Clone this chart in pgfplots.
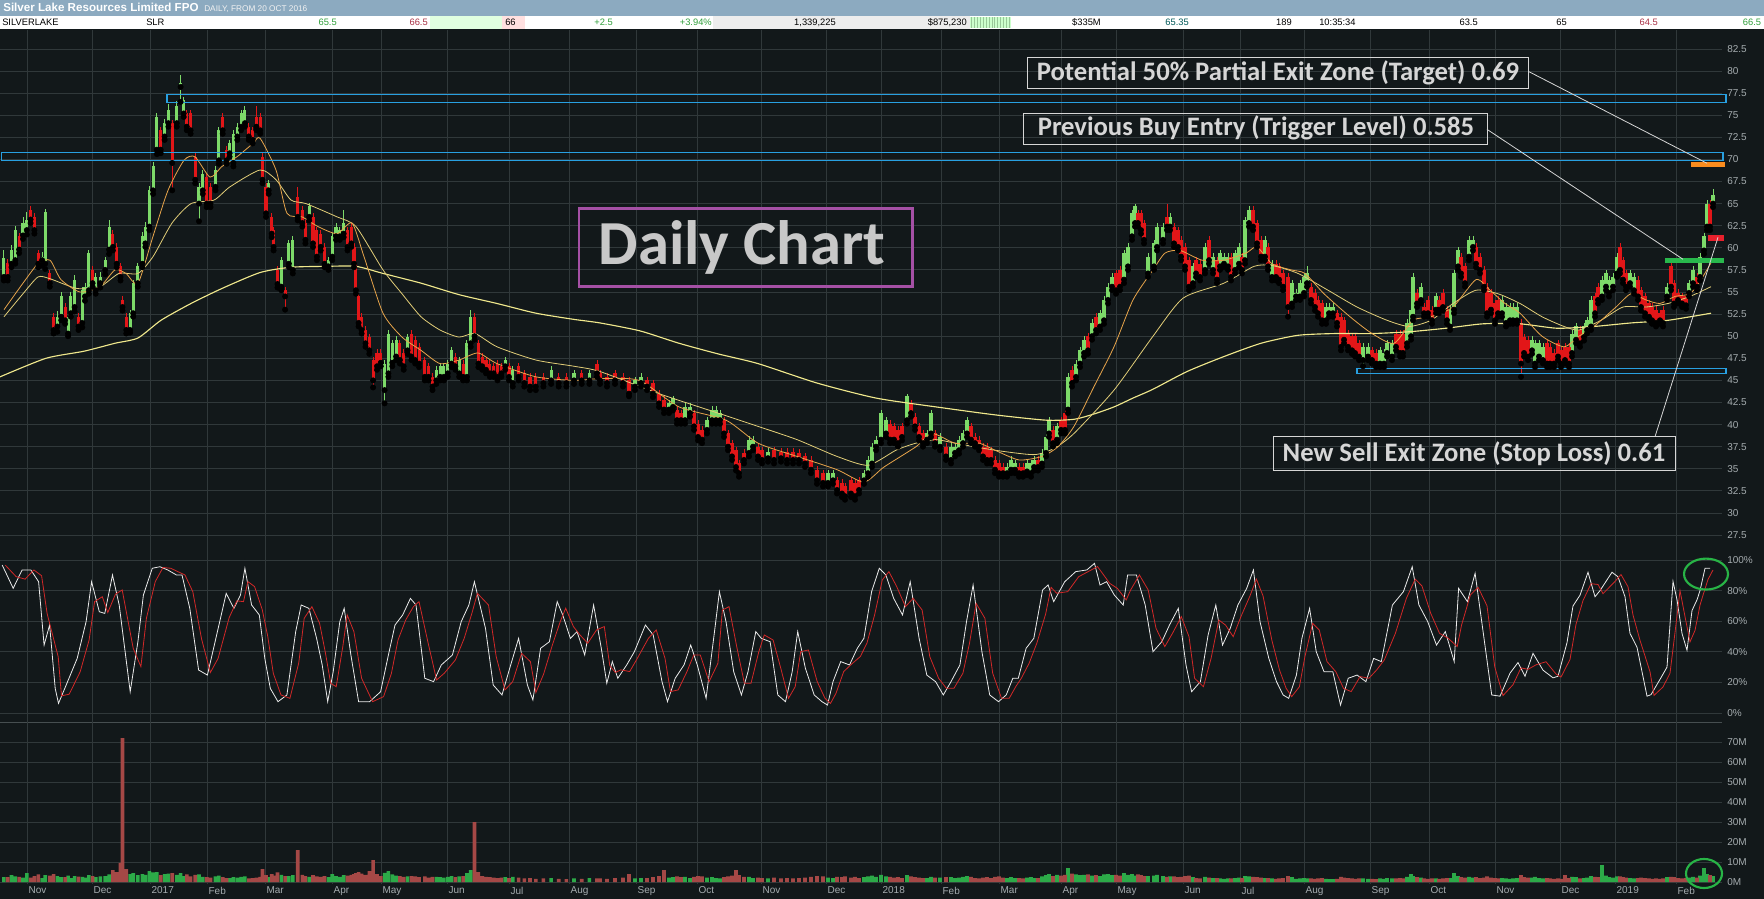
\documentclass[border=0pt]{standalone}
\usepackage{fontspec}
\setmainfont{Liberation Sans}
\newfontfamily\carlito{Carlito}
\usepackage{pgfplots}
\usepackage{pgfplotstable}
\pgfplotsset{compat=1.18}
\definecolor{bg}{RGB}{18,24,26}
\definecolor{gridc}{RGB}{48,56,58}
\definecolor{sepc}{RGB}{70,78,80}
\definecolor{lab}{RGB}{165,172,175}
\definecolor{upc}{RGB}{125,218,105}
\definecolor{dnc}{RGB}{226,22,24}
\definecolor{vup}{RGB}{44,170,72}
\definecolor{vdn}{RGB}{165,72,70}
\definecolor{mafast}{RGB}{232,165,75}
\definecolor{mamed}{RGB}{226,206,120}
\definecolor{maslow}{RGB}{240,232,140}
\definecolor{boxblue}{RGB}{40,160,225}
\definecolor{titlebar}{RGB}{140,170,192}
\definecolor{annot}{RGB}{214,214,214}
\definecolor{purp}{RGB}{165,80,165}
\definecolor{hlgreen}{RGB}{40,180,70}
\definecolor{tgtorange}{RGB}{250,140,30}
\definecolor{stopred}{RGB}{232,32,44}
\definecolor{buygreen}{RGB}{40,184,76}
\definecolor{stK}{RGB}{235,235,235}
\definecolor{stD}{RGB}{210,40,40}
\definecolor{infogreen}{RGB}{50,160,60}
\definecolor{infored}{RGB}{170,50,70}
\newcommand\tickfont{\fontsize{7.5}{9}\selectfont}
\newcommand\infofont{\fontsize{7}{8}\selectfont}

% candles: x, body low, body high, low, high, volume (M)
\pgfplotstableread{
x bl bh l h v
3.8 56.7 58.8 56.3 59.8 2.5
11.5 58.2 59.8 57.8 60.3 3.5
15.3 58.6 62.0 58.2 62.5 2.8
23.0 61.4 62.8 61.0 63.5 2.2
26.8 62.0 63.2 61.5 64.0 4.5
42.1 58.6 59.0 58.0 59.5 2.0
45.2 58.2 64.0 57.6 64.4 3.5
57.4 51.1 52.2 50.5 52.8 3.0
61.2 52.2 54.5 51.8 55.0 2.5
68.1 50.3 52.2 50.0 52.6 3.2
70.8 52.6 54.5 52.2 55.0 2.0
74.6 53.3 56.4 52.8 56.9 3.0
82.3 51.5 55.2 51.0 55.6 2.6
85.0 54.5 55.6 54.0 56.0 2.2
88.8 55.2 59.4 54.8 59.8 3.4
95.7 55.2 56.7 54.8 57.1 2.4
100.3 56.0 56.7 55.5 57.3 2.8
105.2 57.5 58.6 57.0 59.0 3.0
109.1 59.8 62.4 59.3 63.2 3.8
130.1 50.7 52.6 50.4 53.0 4.0
133.2 52.6 56.0 52.2 56.4 4.5
137.8 56.0 57.9 55.6 58.3 3.5
142.4 58.2 61.3 57.8 61.8 4.0
145.4 60.5 62.4 60.1 62.9 3.6
149.3 62.4 66.5 62.0 67.0 5.5
153.1 66.5 69.2 66.1 69.7 4.8
156.9 71.1 74.8 70.6 75.2 5.0
164.6 72.6 74.1 72.2 74.6 4.0
168.4 74.1 75.6 73.7 76.3 4.2
176.8 74.1 76.0 73.7 76.6 3.6
180.6 78.2 78.6 76.5 79.5 4.5
183.7 75.2 76.7 74.8 77.1 3.0
199.0 65.0 66.9 63.0 67.3 3.8
202.8 66.5 68.4 66.1 68.8 2.6
215.5 66.9 68.8 66.5 69.3 2.8
218.9 69.9 73.3 69.5 73.7 3.2
229.6 70.7 71.8 70.3 72.2 2.0
233.4 69.6 72.9 69.2 73.3 2.4
237.3 72.6 73.7 72.2 74.1 2.2
241.1 73.7 75.2 73.3 75.6 2.6
244.9 74.1 75.6 73.7 76.0 2.8
268.7 66.5 67.3 66.1 67.7 2.4
281.3 55.6 58.6 55.2 59.0 3.6
288.9 58.2 60.5 57.8 60.9 3.0
292.8 57.5 60.9 57.1 61.3 3.4
309.2 63.5 64.7 63.1 65.1 2.6
328.4 57.9 58.6 57.5 59.0 2.4
332.2 59.0 61.3 58.6 61.7 4.0
336.0 61.3 62.4 60.9 62.8 3.0
339.8 61.3 62.0 60.9 62.4 2.6
343.7 61.6 62.8 61.2 64.3 3.4
384.6 43.9 46.9 42.4 47.3 4.6
388.4 45.8 50.3 45.4 50.7 5.5
392.3 47.0 49.2 46.6 49.6 3.8
396.1 47.7 49.6 47.3 50.0 3.2
407.6 48.4 49.9 48.0 50.3 2.8
436.3 45.0 46.2 44.6 46.6 2.6
440.1 45.4 46.6 45.0 47.0 2.4
443.9 45.4 46.6 45.0 47.0 2.2
447.8 45.8 46.9 45.4 47.3 2.6
451.6 46.9 48.4 46.5 48.8 3.0
459.2 45.8 47.3 45.4 47.7 2.8
466.9 45.4 49.2 45.0 49.6 4.5
470.7 49.2 52.2 48.8 53.0 6.0
505.2 46.6 47.3 46.2 47.7 2.4
512.8 44.7 46.2 44.3 46.6 2.6
551.1 45.0 46.2 44.6 46.6 2.0
574.0 45.0 45.8 44.6 46.2 1.8
589.4 45.0 45.8 44.6 46.2 2.0
635 44.3 45.0 43.9 45.4 1.8
641 44.7 45.4 44.3 45.8 2.0
669 41.7 42.4 41.3 42.8 2.2
673 42.0 43.0 41.6 43.2 2.4
685 40.5 42.0 40.1 42.4 2.6
690 41.3 42.0 40.9 42.4 2.0
707 39.4 40.5 39.0 40.9 2.2
712 40.5 41.7 40.1 42.1 2.4
716 40.5 41.7 40.1 42.1 2.0
720 40.5 41.3 40.1 41.7 1.8
749 36.8 38.3 36.4 38.7 2.6
753 37.5 38.3 37.1 38.7 2.0
768 36.2 36.9 35.8 37.3 1.8
828 33.4 34.5 33.0 34.9 2.2
833 33.7 34.5 33.3 34.9 2.0
864 33.7 34.5 33.3 34.9 2.4
868 34.5 36.0 34.1 36.4 2.8
872 35.6 37.5 35.2 37.9 3.2
876 37.5 38.3 37.1 38.7 2.6
881 38.3 41.3 37.9 41.7 3.6
886 39.0 40.5 38.6 40.9 2.8
907 40.5 43.2 40.1 43.5 3.4
927 38.3 39.0 37.9 39.4 2.0
931 39.0 41.3 38.6 41.7 2.6
940 37.5 38.6 37.1 39.0 2.2
951 36.0 37.5 35.6 37.9 2.4
955 36.8 37.5 36.4 37.9 2.0
959 37.1 38.3 36.7 38.7 2.2
963 37.9 39.0 37.5 39.4 2.6
967 39.0 40.5 38.6 40.9 3.0
1007 34.5 35.2 34.1 35.6 2.0
1011 34.9 36.0 34.5 36.4 2.4
1015 34.9 35.6 34.5 36.0 2.0
1027 34.7 35.6 34.3 36.0 2.2
1031 34.5 35.6 34.1 36.0 2.4
1034 35.2 36.0 34.8 36.4 2.0
1042 35.6 36.8 35.2 37.2 2.8
1046 36.8 38.6 36.4 39.0 3.4
1049 39.0 40.5 38.6 40.9 4.0
1057 38.3 39.8 37.9 40.2 3.6
1068 41.7 45.4 41.3 45.8 7.0
1076 45.4 46.9 45.0 47.3 3.8
1080 46.9 48.4 46.5 48.8 3.4
1084 48.1 49.6 47.7 50.0 3.6
1092 50.0 51.5 49.6 51.9 3.2
1100 51.1 52.6 50.7 53.0 3.0
1104 51.8 54.1 51.4 54.5 3.8
1108 54.1 55.6 53.7 56.0 4.0
1112 55.6 56.7 55.2 57.1 3.4
1124 56.4 59.4 56.0 59.8 4.4
1128 57.9 60.1 57.5 60.5 3.6
1132 61.3 63.9 60.9 64.3 4.0
1135 62.8 64.7 62.4 65.0 3.2
1148 57.1 59.0 56.7 59.4 3.0
1154 57.9 60.5 57.5 60.9 3.2
1157 60.1 62.4 59.7 62.8 3.6
1163 60.9 62.4 60.5 62.8 3.0
1170 62.4 63.5 62.0 63.9 2.8
1193 56.0 57.9 55.6 58.3 2.4
1205 57.5 60.1 57.1 60.5 2.6
1213 57.5 59.0 57.1 59.4 2.0
1220 57.9 59.4 57.5 59.8 1.8
1224 58.2 59.0 57.8 59.4 1.6
1228 57.9 59.0 57.5 59.4 1.8
1235 57.5 59.4 57.1 59.8 2.0
1239 58.2 60.1 57.8 60.5 2.2
1245 58.6 63.1 58.2 63.5 3.0
1249 62.8 64.3 62.4 64.7 2.8
1265 59.0 60.9 58.6 61.3 2.0
1272 56.7 58.2 56.3 58.6 1.8
1292 53.7 56.0 53.3 56.4 2.4
1296 54.5 54.9 54.1 55.3 1.6
1300 54.5 56.0 54.1 56.4 1.8
1304 54.9 56.7 54.5 57.1 2.0
1307 56.0 57.1 55.6 57.9 1.8
1326 51.8 53.3 51.4 53.7 1.6
1329 52.6 53.3 52.2 53.7 1.4
1333 52.6 53.3 52.2 53.7 1.5
1363 47.3 48.8 46.6 49.2 1.8
1368 47.7 48.8 47.3 49.2 1.6
1380 46.9 48.4 46.5 48.8 1.8
1384 46.9 48.1 46.5 48.5 1.6
1387 48.1 49.2 47.7 49.6 2.0
1392 47.7 49.2 47.3 49.6 1.8
1407 49.2 51.5 48.8 51.9 2.6
1411 50.0 53.0 49.6 53.4 4.0
1413 52.2 56.7 51.8 57.1 3.0
1421 54.1 55.6 53.7 56.0 2.2
1436 53.0 54.5 52.6 54.9 1.8
1450 51.1 53.0 50.7 53.4 2.0
1454 53.0 57.1 52.6 57.5 4.5
1458 57.9 59.7 57.5 60.1 3.0
1469 59.0 60.9 58.6 61.3 2.6
1473 60.1 60.9 59.7 61.3 2.2
1502 52.6 54.1 52.2 54.5 2.0
1506 51.5 53.3 51.1 53.7 1.8
1510 51.8 53.3 51.4 53.7 1.6
1513 51.8 53.3 51.4 53.7 1.8
1517 51.8 53.3 51.4 53.7 2.0
1532 48.4 49.6 48.0 50.0 2.2
1535 46.9 49.2 46.5 49.6 2.6
1539 47.7 49.2 47.3 49.6 2.0
1543 47.3 48.8 46.9 49.2 1.8
1572 48.1 50.3 47.7 50.7 2.6
1576 49.6 51.1 49.2 51.5 2.4
1584 49.9 51.1 49.5 51.5 2.0
1587 50.7 51.8 50.3 52.2 2.2
1591 51.1 54.1 50.7 54.5 3.0
1602 54.5 56.4 54.1 56.8 8.5
1606 55.6 57.1 55.2 57.5 3.2
1609 54.9 56.4 54.5 56.8 2.4
1613 55.6 56.7 55.2 57.1 2.2
1617 57.1 59.0 56.7 59.4 2.8
1630 56.0 57.1 55.6 57.5 2.0
1634 55.2 56.7 54.8 57.1 1.8
1667 54.5 55.6 54.1 56.0 2.4
1689 54.9 56.0 54.5 56.4 2.2
1693 56.0 57.5 55.6 57.9 2.6
1700 56.7 59.0 56.3 59.4 3.2
1704 59.7 61.3 59.3 61.7 7.0
1707 62.4 65.0 62.0 65.4 4.0
1713 65.0 66.0 64.6 66.6 3.0
}\up

\pgfplotstableread{
x bl bh l h v
7.7 56.7 58.3 56.3 58.7 2.4
19.1 59.8 61.3 59.4 61.7 2.6
30.6 63.2 64.3 62.8 64.7 2.2
34.4 62.0 63.5 61.6 63.9 3.0
38.3 58.2 59.4 57.8 59.8 3.8
49.8 56.0 57.1 55.6 57.5 3.2
53.6 50.7 52.2 50.3 52.6 4.0
65.1 51.8 53.3 51.4 53.7 2.5
78.5 51.1 52.2 50.7 52.6 2.7
92.6 56.0 57.5 55.6 57.9 3.0
112.9 60.1 61.6 59.7 62.0 6.0
116.7 58.2 60.1 57.8 60.5 5.0
120.5 56.7 57.9 56.3 58.3 9.6
122.5 53.3 54.1 52.9 54.5 72
126.3 50.7 52.2 50.3 52.6 6.5
160.7 71.1 73.3 70.7 73.7 3.5
172.2 69.6 74.1 66.5 74.5 4.4
186.8 73.7 75.2 73.3 75.6 3.8
190.6 73.3 75.2 72.9 75.6 2.8
195.2 67.7 70.3 67.3 70.7 3.6
206.7 65.0 68.0 64.6 68.4 2.4
210.5 65.0 66.9 64.6 67.3 2.2
222.7 73.3 74.8 72.9 75.2 2.4
226.6 69.9 71.1 69.5 71.5 2.0
248.8 72.6 73.7 72.2 74.1 1.8
252.6 72.2 73.3 71.8 73.7 2.0
256.4 73.7 74.8 73.3 76.0 2.2
260.2 73.3 74.8 72.9 75.2 2.6
262.5 67.7 70.3 67.3 70.7 6.5
266.0 63.9 66.9 63.5 67.3 3.5
271.7 61.6 63.5 61.2 63.9 4.0
273.6 60.1 62.0 59.7 62.4 3.2
277.5 55.9 57.5 55.5 57.9 4.8
285.1 54.5 55.2 53.0 55.6 3.0
297.7 63.5 65.8 63.1 66.9 16
302.3 62.8 64.3 62.4 64.7 3.6
305.4 60.9 62.8 60.5 63.2 3.0
313.0 60.5 63.5 60.1 63.9 3.4
316.9 59.0 62.0 58.6 62.4 2.8
320.7 60.1 61.6 59.7 62.0 2.6
324.5 58.2 60.1 57.8 60.5 3.0
347.5 60.1 62.0 59.7 62.4 3.2
351.3 60.5 62.4 60.1 62.8 3.6
354.0 58.2 60.1 57.8 60.5 4.0
355.9 55.2 58.2 54.8 58.6 4.4
358.6 51.5 54.5 51.1 54.9 5.0
361.6 50.7 52.2 50.3 52.6 4.2
365.5 49.2 50.7 48.8 51.1 3.6
369.3 48.4 49.9 48.0 50.3 5.5
373.1 45.0 47.3 44.2 47.7 11
377.0 46.6 48.1 46.2 48.5 4.0
380.8 47.0 48.1 46.6 48.5 3.0
399.9 47.3 49.2 46.9 49.6 3.0
403.7 46.6 48.1 46.2 48.5 2.6
411.4 47.7 50.3 47.3 50.7 3.0
415.2 47.3 49.6 46.9 50.0 2.8
419.1 46.9 48.8 46.5 49.2 2.4
424.8 45.4 47.3 45.0 47.7 2.8
428.6 45.4 46.6 45.0 47.0 2.2
432.5 44.3 45.4 43.9 45.8 2.6
455.4 46.6 47.7 46.2 48.1 2.4
463.1 45.4 46.9 45.0 47.3 3.0
474.5 50.0 52.2 49.6 52.6 30
478.4 46.9 49.2 46.5 49.6 5.0
482.2 46.6 47.7 46.2 48.1 3.0
486.0 46.2 47.3 45.8 47.7 2.6
489.9 45.8 46.9 45.4 47.3 2.4
493.7 45.8 46.6 45.4 47.0 2.2
497.5 45.4 46.9 45.0 47.3 2.0
501.3 45.8 46.6 45.4 47.0 2.2
509.0 45.4 46.6 45.0 47.0 2.0
518.6 45.4 46.6 45.0 47.0 2.2
524.3 44.7 45.8 44.3 46.2 1.8
530.0 44.3 45.4 43.9 45.8 2.0
535.8 44.3 45.4 43.9 45.8 1.6
543.4 44.7 45.4 44.3 45.8 1.8
558.7 44.7 45.4 44.3 45.8 1.6
566.4 44.7 45.4 44.3 45.8 1.4
581.7 45.0 45.8 44.6 46.2 1.6
597.0 45.8 46.9 45.4 47.3 1.8
600 45.0 45.8 44.6 46.2 1.8
607 44.7 45.4 44.3 45.8 1.6
615 45.0 45.8 44.6 46.2 2.0
623 44.7 45.4 44.3 45.8 2.2
629 43.5 45.0 43.2 45.4 4.0
647 44.3 45.0 43.9 45.4 2.0
653 43.5 44.7 43.1 45.1 2.4
659 42.4 43.5 42.0 43.9 3.0
664 41.7 42.8 41.3 43.2 6.0
677 40.5 41.7 40.1 42.1 2.8
681 40.5 41.3 40.1 41.7 2.4
694 39.8 41.3 39.4 41.7 2.6
698 38.6 40.1 38.2 40.5 3.0
702 38.3 39.4 37.9 39.8 2.8
724 39.0 40.5 38.6 40.9 2.4
728 37.5 39.0 37.1 39.4 2.8
732 36.4 37.9 36.0 38.3 3.2
736 35.2 37.1 34.8 37.5 6.0
739 34.5 35.6 34.1 36.0 3.4
744 36.0 36.8 35.6 37.2 2.6
758 36.4 37.5 36.0 37.9 2.2
762 36.0 37.1 35.6 37.5 2.0
774 36.0 37.1 35.6 37.5 2.2
781 36.2 36.9 35.8 37.3 1.8
787 36.0 36.9 35.6 37.3 2.0
793 36.0 36.9 35.6 37.3 1.8
799 36.0 36.8 35.6 37.2 2.0
805 35.6 36.4 35.2 36.8 2.2
811 34.9 36.0 34.5 36.4 2.6
817 33.7 34.9 33.3 35.3 3.0
823 33.4 34.5 33.0 34.9 2.8
837 32.6 33.7 32.2 34.1 2.6
842 32.2 33.4 31.8 33.8 2.4
845 31.9 33.0 31.5 33.4 2.8
851 32.2 33.7 31.8 34.1 2.2
855 31.9 33.4 31.5 33.8 2.6
859 32.6 33.7 32.2 34.1 2.0
890 38.3 40.1 37.9 40.5 2.6
894 38.3 39.8 37.9 40.2 2.2
898 37.9 39.4 37.5 39.8 2.4
902 38.6 39.8 38.2 40.2 2.0
911 41.3 42.4 40.9 42.8 2.8
915 39.8 40.9 39.4 41.3 2.4
919 38.6 39.8 38.2 40.2 2.2
923 37.9 39.0 37.5 39.4 2.0
935 37.9 39.0 37.5 39.4 2.2
946 36.4 37.5 36.0 37.9 2.4
971 38.3 39.8 37.9 40.2 2.6
975 37.9 38.6 37.5 39.0 2.0
979 37.5 38.3 37.1 38.7 1.8
983 36.4 37.5 36.0 37.9 2.2
987 36.0 37.5 35.6 37.9 2.4
991 36.0 37.1 35.6 37.5 2.0
995 34.9 36.0 34.5 36.4 2.6
999 34.5 35.6 34.1 36.0 2.8
1003 34.5 35.2 34.1 35.6 2.2
1019 34.5 35.2 34.1 35.6 2.0
1023 34.5 35.2 34.1 35.6 1.8
1038 35.2 36.0 34.8 36.4 2.0
1053 37.9 39.4 37.5 39.8 3.0
1061 39.4 40.5 39.0 40.9 3.2
1065 39.4 41.3 39.0 41.7 3.6
1072 44.7 46.2 44.3 46.6 4.2
1088 48.4 50.0 48.0 50.4 3.8
1096 50.7 52.2 50.3 52.6 3.4
1116 55.2 57.1 54.8 57.5 3.6
1120 55.6 57.5 55.2 57.9 3.2
1138 62.8 63.9 62.4 64.3 3.8
1141 62.0 63.9 61.6 64.3 3.4
1144 60.9 62.8 60.5 63.2 3.0
1167 62.4 63.5 62.0 65.0 2.6
1174 60.5 62.4 60.1 62.8 2.8
1178 60.1 62.0 59.7 62.4 2.4
1181 59.0 60.9 58.6 61.3 2.6
1185 57.9 60.1 57.5 60.5 3.0
1189 55.6 58.6 55.2 59.0 3.2
1196 57.1 58.6 56.7 59.0 2.0
1200 56.7 58.2 56.3 58.6 1.8
1209 58.6 60.9 58.2 61.3 2.2
1217 56.4 58.6 56.0 59.0 2.0
1231 56.7 59.0 56.3 59.4 1.8
1242 57.5 59.0 57.1 59.4 2.0
1253 62.4 64.3 62.0 64.7 2.6
1257 60.5 62.8 60.1 63.2 2.4
1261 59.0 60.9 58.6 61.3 2.2
1268 57.9 60.1 57.5 60.5 2.0
1276 56.7 58.2 56.3 58.6 1.6
1279 56.4 57.9 56.0 58.3 1.8
1283 55.6 57.1 55.2 57.5 2.0
1288 53.3 56.7 52.2 57.1 3.0
1311 54.1 55.6 53.7 56.0 1.8
1315 53.3 54.9 52.9 55.3 1.6
1318 52.6 54.1 52.2 54.5 1.8
1322 51.8 53.7 51.4 54.1 2.0
1337 51.5 52.6 51.1 53.0 1.6
1341 48.8 52.2 48.4 52.6 2.6
1344 49.6 51.8 49.2 52.2 2.2
1348 48.8 50.3 48.4 50.7 2.0
1352 48.4 50.0 48.0 50.4 1.8
1355 48.1 50.0 47.7 50.4 1.6
1359 47.7 49.2 47.3 49.6 1.8
1372 47.3 48.4 46.9 48.8 1.6
1376 46.9 48.1 46.5 48.5 1.4
1396 48.8 50.3 48.4 50.7 1.8
1400 48.1 50.3 47.7 50.7 2.0
1403 48.1 50.3 47.7 50.7 1.8
1417 53.7 54.9 53.3 55.3 2.4
1424 52.6 53.3 52.2 53.7 1.8
1428 52.6 54.1 52.2 54.5 1.6
1432 51.8 53.0 51.4 53.4 1.8
1439 53.0 54.1 52.6 54.5 1.6
1443 53.3 54.9 52.9 55.3 1.8
1447 51.8 53.0 51.4 53.4 2.0
1461 57.1 59.0 56.7 59.4 2.4
1465 56.0 57.9 55.6 58.3 2.2
1476 58.2 60.1 57.8 60.5 2.4
1480 57.5 59.0 57.1 59.4 2.0
1484 55.6 57.5 55.2 57.9 2.2
1487 52.6 55.6 52.2 56.0 2.8
1491 53.0 54.9 52.6 55.3 2.2
1495 51.8 53.7 51.4 54.1 2.0
1498 52.6 54.1 52.2 54.5 1.8
1521 46.9 51.5 45.4 51.9 3.5
1524 48.1 49.9 47.7 50.3 2.4
1528 47.7 49.6 47.3 50.0 2.2
1547 46.9 49.2 46.5 49.6 2.0
1550 46.9 48.8 46.5 49.2 1.8
1554 46.9 48.1 46.5 48.5 1.6
1558 47.7 49.2 47.3 49.6 1.8
1561 46.9 48.4 46.5 48.8 1.6
1565 47.3 48.8 46.9 49.2 3.5
1569 46.9 48.8 46.5 49.2 2.0
1580 49.2 50.7 48.8 51.1 1.8
1595 52.6 54.5 52.2 54.9 2.6
1598 54.1 55.6 53.7 56.0 2.4
1620 57.5 60.1 57.1 60.5 2.8
1623 56.4 58.6 56.0 59.0 2.4
1626 55.6 57.1 55.2 57.5 2.2
1638 54.5 56.4 54.1 56.8 2.0
1641 53.3 55.2 52.9 55.6 2.2
1645 52.6 54.5 52.2 54.9 2.0
1649 52.2 53.7 51.8 54.1 1.8
1652 51.8 53.3 51.4 53.7 1.6
1656 51.5 53.0 51.1 53.4 1.8
1660 51.8 52.6 51.4 53.0 1.6
1663 51.5 53.0 51.1 53.4 1.8
1671 55.6 57.9 55.2 58.3 2.6
1674 53.7 56.0 53.3 56.4 2.4
1678 54.1 54.9 53.7 55.3 2.0
1682 53.7 54.5 53.3 54.9 1.8
1686 53.5 54.5 53.1 54.9 2.0
1697 55.6 56.7 55.2 57.1 2.2
1710 62.4 65.0 62.0 65.4 3.4
}\dn

\pgfplotsset{
  panel/.style={
    scale only axis, width=1291.5pt, xmin=0, xmax=1722,
    axis line style={draw=none}, major tick length=0pt,
    grid=major, major grid style={draw=gridc, line width=0.6pt},
    xtick={27,92,150,207,265,332,381,447,509,569,636,697,761,826,881,941,999,1061,1116,1183,1240,1304,1370,1429,1495,1560,1615,1676},
    xticklabels={},
    yticklabel pos=right,
    yticklabel style={anchor=west, font=\tickfont, text=lab, inner sep=0pt, xshift=3.75pt},
    clip=false,
  },
  candleup/.style={only marks, mark=none, forget plot, error bars/.cd, y dir=plus, y explicit, error mark=none},
}

\begin{document}
\begin{tikzpicture}
\path[use as bounding box] (0,0) rectangle (1323pt,-674.25pt);
% header
\fill[titlebar] (0,0) rectangle (1323pt,-12pt);
\fill[white] (0,-12pt) rectangle (1323pt,-21.75pt);
\fill[green!12] (322.5pt,-12pt) rectangle (376.5pt,-21.75pt);
\fill[red!12] (376.5pt,-12pt) rectangle (393.75pt,-21.75pt);
\fill[black!7] (534.75pt,-12pt) rectangle (727.5pt,-21.75pt);
\fill[green!20] (727.5pt,-12.8pt) rectangle (758.25pt,-21pt);
\foreach \i in {0,...,13} {\draw[green!45!black!40, line width=0.5pt] (728.5pt+\i*2.2pt,-12.8pt) -- (728.5pt+\i*2.2pt,-21pt);}
\draw[black!25, line width=0.5pt] (0,-21.75pt) -- (1323pt,-21.75pt);
\node[anchor=base west, inner sep=0pt, text=white] at (2.25pt,-9pt) {\fontsize{8.7}{10}\selectfont\bfseries Silver Lake Resources Limited FPO};
\node[anchor=base west, inner sep=0pt, text=black!5] at (153pt,-9pt) {\fontsize{6.2}{7}\selectfont DAILY, FROM 20 OCT 2016};
\begin{scope}[every node/.style={inner sep=0pt, font=\infofont}]
\node[anchor=base west] at (1.5pt,-19.5pt) {SILVERLAKE};
\node[anchor=base west] at (109.5pt,-19.5pt) {SLR};
\node[anchor=base east, text=infogreen] at (252.75pt,-19.5pt) {65.5};
\node[anchor=base east, text=infored] at (321pt,-19.5pt) {66.5};
\node[anchor=base west] at (378.75pt,-19.5pt) {66};
\node[anchor=base east, text=infogreen] at (459.75pt,-19.5pt) {+2.5};
\node[anchor=base east, text=infogreen] at (534pt,-19.5pt) {+3.94\%};
\node[anchor=base east] at (627pt,-19.5pt) {1,339,225};
\node[anchor=base east] at (725.25pt,-19.5pt) {\$875,230};
\node[anchor=base east] at (825.75pt,-19.5pt) {\$335M};
\node[anchor=base east, text=teal!70!black] at (891.75pt,-19.5pt) {65.35};
\node[anchor=base east] at (969pt,-19.5pt) {189};
\node[anchor=base west] at (989.25pt,-19.5pt) {10:35:34};
\node[anchor=base east] at (1108.5pt,-19.5pt) {63.5};
\node[anchor=base east] at (1175.25pt,-19.5pt) {65};
\node[anchor=base east, text=infored] at (1243.5pt,-19.5pt) {64.5};
\node[anchor=base east, text=infogreen] at (1321pt,-19.5pt) {66.5};
\end{scope}
% chart background
\fill[bg] (0,-21.75pt) rectangle (1323pt,-674.25pt);

% ===== price panel =====
\begin{axis}[panel, at={(0pt,-420pt)}, anchor=south west, height=397.5pt,
  ymin=24.68, ymax=84.64,
  ytick={27.5,30,32.5,35,37.5,40,42.5,45,47.5,50,52.5,55,57.5,60,62.5,65,67.5,70,72.5,75,77.5,80,82.5},
  yticklabels={27.5,30,32.5,35,37.5,40,42.5,45,47.5,50,52.5,55,57.5,60,62.5,65,67.5,70,72.5,75,77.5,80,82.5}]
% wicks
\addplot[candleup, error bar style={draw=upc, line width=0.75pt}] table[x=x, y=l, y error expr=\thisrow{h}-\thisrow{l}] {\up};
\addplot[candleup, error bar style={draw=dnc, line width=0.75pt}] table[x=x, y=l, y error expr=\thisrow{h}-\thisrow{l}] {\dn};
% bodies
\addplot[candleup, error bar style={draw=upc, line width=2.3pt}] table[x=x, y=bl, y error expr=\thisrow{bh}-\thisrow{bl}] {\up};
\addplot[candleup, error bar style={draw=dnc, line width=2.3pt}] table[x=x, y=bl, y error expr=\thisrow{bh}-\thisrow{bl}] {\dn};
% moving averages
\addplot[maslow, line width=0.85pt, smooth, tension=0.4] coordinates {(0,45.4)(46,47.5)(84,48.3)(115,49.2)(138,49.8)(161,51.8)(191,53.7)(222,55.4)(260,57.2)(291,57.8)(325,57.9)(356,57.9)(383,57.1)(421,56.0)(459,54.7)(497,53.7)(536,52.6)(574,51.9)(600,51.5)(640,50.6)(679,49.2)(718,48.0)(758,46.9)(817,44.7)(876,43.0)(936,42.0)(995,41.1)(1046,40.5)(1074,40.6)(1094,41.2)(1114,42.0)(1133,43.0)(1153,44.0)(1187,46.0)(1224,47.7)(1261,49.2)(1298,50.1)(1335,50.3)(1372,50.3)(1409,50.5)(1446,50.9)(1483,51.4)(1520,51.4)(1557,50.9)(1594,51.1)(1631,51.5)(1668,51.8)(1711,52.6)};
\addplot[mamed, line width=0.6pt, smooth, tension=0.4] coordinates {(4,52.2)(23,54.8)(38,56.7)(50,56.5)(77,55.4)(100,55.6)(119,57.1)(138,57.1)(153,59.0)(172,62.8)(191,65.0)(214,65.4)(230,66.9)(260,68.8)(276,67.7)(291,65.4)(306,65.0)(337,63.5)(356,62.4)(383,57.5)(402,54.8)(421,52.2)(440,50.7)(459,49.9)(475,50.3)(497,48.8)(536,47.3)(574,46.6)(600,46.0)(659,43.5)(718,41.3)(758,39.8)(797,38.3)(837,36.4)(868,35.4)(896,37.1)(916,37.9)(936,38.3)(955,37.9)(995,37.1)(1034,36.6)(1054,37.3)(1074,39.0)(1114,43.9)(1153,50.0)(1183,54.3)(1224,56.0)(1254,57.9)(1272,58.0)(1298,57.1)(1328,55.2)(1357,53.3)(1387,51.8)(1409,51.1)(1431,51.8)(1453,53.7)(1476,55.2)(1498,54.8)(1520,53.7)(1542,52.2)(1564,51.1)(1579,50.7)(1601,51.8)(1623,53.3)(1646,53.3)(1668,53.7)(1690,54.5)(1711,55.6)};
\addplot[mafast, line width=0.6pt, smooth, tension=0.4] coordinates {(4,53.0)(23,56.0)(38,58.2)(50,58.6)(61,56.4)(80,55.0)(100,55.6)(115,57.5)(126,57.1)(138,56.0)(153,61.3)(168,66.5)(184,69.9)(195,70.3)(210,68.0)(222,69.2)(237,70.3)(253,71.8)(260,72.4)(276,68.8)(287,63.9)(302,63.5)(318,62.4)(337,61.6)(352,62.8)(364,59.0)(383,52.6)(402,49.9)(421,48.4)(440,46.9)(459,47.3)(478,48.1)(497,46.9)(536,45.4)(574,45.0)(600,45.2)(639,45.0)(679,42.0)(726,40.5)(758,37.9)(797,36.4)(837,34.9)(864,33.5)(884,35.2)(916,37.5)(932,39.0)(955,37.9)(979,37.9)(995,37.1)(1019,36.0)(1042,36.4)(1058,37.5)(1074,39.8)(1094,44.3)(1114,48.8)(1133,54.1)(1153,57.5)(1165,59.4)(1180,59.7)(1202,58.6)(1224,58.6)(1246,59.4)(1257,60.1)(1272,58.2)(1291,57.5)(1305,57.1)(1324,54.8)(1350,52.2)(1372,50.3)(1394,49.2)(1413,51.8)(1431,52.2)(1453,53.3)(1476,56.4)(1490,55.2)(1505,53.7)(1520,52.6)(1542,50.0)(1564,48.8)(1579,50.0)(1594,51.1)(1616,53.3)(1631,54.8)(1646,54.1)(1660,53.7)(1675,54.5)(1690,54.8)(1701,56.4)(1711,58.3)};
% zones
\draw[boxblue, line width=0.8pt] (axis cs:167,76.4) rectangle (axis cs:1726,77.3);
\draw[boxblue, line width=0.8pt] (axis cs:1.5,69.9) rectangle (axis cs:1723,70.8);
\draw[boxblue, line width=0.8pt] (axis cs:1357,45.8) rectangle (axis cs:1726,46.3);
\fill[tgtorange] (axis cs:1691,69.1) rectangle (axis cs:1725,69.7);
\fill[stopred] (axis cs:1708,60.8) rectangle (axis cs:1724,61.4);
\fill[buygreen] (axis cs:1665,58.3) rectangle (axis cs:1724,58.8);
% connectors
\draw[annot, line width=0.6pt] (axis cs:1529,79.92) -- (axis cs:1707,69.56);
\draw[annot, line width=0.6pt] (axis cs:1487,73.4) -- (axis cs:1683,58.7);
\draw[annot, line width=0.6pt] (axis cs:1655,38.63) -- (axis cs:1718,61.19);
% annotation boxes
\draw[annot, line width=0.75pt] (axis cs:1027,81.55) rectangle (axis cs:1528,78.04);
\node[anchor=base, inner sep=0pt, text=annot] at (axis cs:1278,78.9) {\carlito\bfseries\fontsize{20}{22}\selectfont Potential 50\% Partial Exit Zone (Target) 0.69};
\draw[annot, line width=0.75pt] (axis cs:1023,75.21) rectangle (axis cs:1487,71.63);
\node[anchor=base, inner sep=0pt, text=annot] at (axis cs:1256,72.65) {\carlito\bfseries\fontsize{20}{22}\selectfont Previous Buy Entry (Trigger Level) 0.585};
\draw[annot, line width=0.75pt] (axis cs:1273,38.6) rectangle (axis cs:1675,34.75);
\node[anchor=base, inner sep=0pt, text=annot] at (axis cs:1474,35.8) {\carlito\bfseries\fontsize{20}{22}\selectfont New Sell Exit Zone (Stop Loss) 0.61};
\draw[purp, line width=2.2pt] (axis cs:579,64.42) rectangle (axis cs:912.3,55.59);
\node[anchor=center, inner sep=0pt, text={rgb,255:red,200;green,200;blue,200}] at (axis cs:742,60.0) {\carlito\bfseries\fontsize{47}{50}\selectfont Daily Chart};
\end{axis}
\draw[sepc, line width=0.6pt] (0,-420pt) -- (1291.5pt,-420pt);

% ===== stochastic panel =====
\begin{axis}[panel, at={(0pt,-541.5pt)}, anchor=south west, height=121.5pt,
  ymin=-5.88, ymax=100,
  ytick={0,20,40,60,80,100}, yticklabels={0\%,20\%,40\%,60\%,80\%,100\%}]
\addplot[stK, line width=0.6pt] coordinates {(2.2,96.7)(13.2,81.5)(22.1,93.5)(30.9,93.5)(38.6,85.8)(44.1,44.4)(49.6,57.5)(55.2,16.1)(58.5,6.3)(66.2,18.3)(77.2,35.7)(86.1,59.7)(91.6,85.8)(99.3,66.2)(104.8,65.1)(112.5,90.2)(119.2,70.6)(130.2,13.9)(137.9,46.6)(143.4,77.1)(152.3,94.6)(160.0,95.6)(167.7,93.5)(176.5,90.2)(182.0,90.2)(189.8,68.4)(198.6,28.1)(207.4,24.8)(215.1,46.6)(226.2,78.2)(233.9,68.4)(240.5,77.1)(244.9,94.6)(251.6,70.6)(259.3,64.1)(264.8,35.7)(270.3,16.1)(278.0,7.4)(286.9,11.8)(295.7,53.2)(301.2,70.6)(308.9,68.4)(316.6,48.8)(322.2,31.4)(327.7,7.4)(333.2,27.0)(339.8,59.7)(344.2,68.4)(350.9,37.9)(358.6,7.4)(369.6,7.4)(380.6,13.9)(388.4,37.9)(395.0,57.5)(402.7,64.1)(410.4,74.9)(416.0,70.6)(424.8,22.7)(433.6,20.5)(441.3,31.4)(452.4,37.9)(461.2,59.7)(468.9,70.6)(474.4,85.8)(485.5,55.3)(493.2,18.3)(502.0,11.8)(509.7,29.2)(518.6,48.8)(527.4,18.3)(532.9,8.5)(540.6,42.3)(549.4,46.6)(557.2,72.8)(562.7,64.1)(570.4,48.8)(577.0,53.2)(584.7,37.9)(593.6,70.6)(601.3,42.3)(606.8,19.4)(612.3,33.6)(617.8,22.7)(626.7,31.4)(634.4,40.1)(645.4,57.5)(653.2,51.0)(662.0,20.5)(667.5,7.4)(675.2,22.7)(684.0,31.4)(690.7,44.4)(697.3,31.4)(706.1,9.6)(714.9,55.3)(719.4,79.3)(726.0,59.7)(733.7,27.0)(741.4,11.8)(748.0,27.0)(755.8,53.2)(761.3,48.8)(770.1,46.6)(777.8,11.8)(785.5,7.4)(792.2,27.0)(797.7,53.2)(805.4,29.2)(814.2,11.8)(822.0,7.4)(827.5,5.2)(833.0,20.5)(840.7,33.6)(849.5,31.4)(857.3,42.3)(863.9,48.8)(871.6,79.3)(879.3,94.6)(885.9,90.2)(893.7,74.9)(902.5,64.1)(910.2,85.8)(919.1,48.8)(926.8,24.8)(935.6,20.5)(943.3,11.8)(951.0,20.5)(959.9,31.4)(966.5,59.7)(973.1,83.7)(981.9,40.1)(989.7,11.8)(998.5,7.4)(1006.2,11.8)(1012.8,22.7)(1018.3,22.7)(1026.1,42.3)(1033.8,48.8)(1042.6,80.4)(1048.1,83.7)(1053.7,72.8)(1064.7,85.8)(1075.7,92.4)(1086.8,93.5)(1094.5,97.8)(1100.0,83.7)(1106.6,85.8)(1114.3,77.1)(1123.2,70.6)(1127.6,90.2)(1136.4,90.2)(1145.2,70.6)(1153.0,40.1)(1161.8,46.6)(1169.5,57.5)(1178.3,68.4)(1186.0,31.4)(1191.6,13.9)(1200.4,20.5)(1208.1,51.0)(1215.8,70.6)(1222.5,44.4)(1230.2,55.3)(1237.9,70.6)(1246.7,81.5)(1253.4,93.5)(1260.0,59.7)(1268.8,35.7)(1276.5,20.5)(1283.1,11.8)(1288.7,9.6)(1296.4,24.8)(1301.9,48.8)(1309.6,68.4)(1316.2,40.1)(1324.0,27.0)(1332.8,27.0)(1340.5,5.2)(1348.2,22.7)(1357.1,24.8)(1365.9,20.5)(1373.6,35.7)(1381.3,33.6)(1392.4,70.6)(1403.4,79.3)(1412.2,95.6)(1418.9,70.6)(1427.7,59.7)(1436.5,44.4)(1445.3,53.2)(1454.2,33.6)(1458.6,81.5)(1467.4,72.8)(1475.1,91.3)(1484.0,48.8)(1491.7,11.8)(1500,11)(1510,26)(1518,33)(1525,24)(1533,39)(1543,28)(1553,23)(1558,24)(1567,46)(1573,70)(1580,77)(1588,92)(1595,76)(1600,80)(1612,92)(1618,89)(1625,76)(1630,52)(1637,43)(1647,11)(1651,12)(1660,22)(1667,30)(1673,86)(1677,74)(1682,52)(1687,41)(1692,67)(1697,74)(1700,80)(1705,94.6)(1710,94.6)};
\addplot[stD, line width=0.6pt] coordinates {(5.2,96.7)(16.2,89.1)(25.1,87.5)(33.9,93.5)(41.6,89.7)(47.1,65.1)(52.6,51.0)(58.2,36.8)(61.5,11.2)(69.2,12.3)(80.2,27.0)(89.1,47.7)(94.6,72.8)(102.3,76.0)(107.8,65.7)(115.5,77.7)(122.2,80.4)(133.2,42.3)(140.9,30.3)(146.4,61.9)(155.3,85.9)(163.0,95.1)(170.7,94.6)(179.5,91.9)(185.0,90.2)(192.8,79.3)(201.6,48.3)(210.4,26.5)(218.1,35.7)(229.2,62.4)(236.9,73.3)(243.5,72.8)(247.9,85.9)(254.6,82.6)(262.3,67.4)(267.8,49.9)(273.3,25.9)(281.0,11.8)(289.9,9.6)(298.7,32.5)(304.2,61.9)(311.9,69.5)(319.6,58.6)(325.2,40.1)(330.7,19.4)(336.2,17.2)(342.8,43.4)(347.2,64.1)(353.9,53.2)(361.6,22.7)(372.6,7.4)(383.6,10.7)(391.4,25.9)(398.0,47.7)(405.7,60.8)(413.4,69.5)(419.0,72.8)(427.8,46.7)(436.6,21.6)(444.3,26.0)(455.4,34.7)(464.2,48.8)(471.9,65.2)(477.4,78.2)(488.5,70.6)(496.2,36.8)(505.0,15.1)(512.7,20.5)(521.6,39.0)(530.4,33.6)(535.9,13.4)(543.6,25.4)(552.4,44.5)(560.2,59.7)(565.7,68.5)(573.4,56.5)(580.0,51.0)(587.7,45.6)(596.6,54.3)(604.3,56.5)(609.8,30.9)(615.3,26.5)(620.8,28.2)(629.7,27.1)(637.4,35.8)(648.4,48.8)(656.2,54.3)(665.0,35.8)(670.5,14.0)(678.2,15.1)(687.0,27.1)(693.7,37.9)(700.3,37.9)(709.1,20.5)(717.9,32.5)(722.4,67.3)(729.0,69.5)(736.7,43.4)(744.4,19.4)(751.0,19.4)(758.8,40.1)(764.3,51.0)(773.1,47.7)(780.8,29.2)(788.5,9.6)(795.2,17.2)(800.7,40.1)(808.4,41.2)(817.2,20.5)(825.0,9.6)(830.5,6.3)(836.0,12.9)(843.7,27.1)(852.5,32.5)(860.3,36.9)(866.9,45.6)(874.6,64.1)(882.3,87.0)(888.9,92.4)(896.7,82.6)(905.5,69.5)(913.2,75.0)(922.1,67.3)(929.8,36.8)(938.6,22.7)(946.3,16.2)(954.0,16.2)(962.9,26.0)(969.5,45.6)(976.1,71.7)(984.9,61.9)(992.7,26.0)(1001.5,9.6)(1009.2,9.6)(1015.8,17.3)(1021.3,22.7)(1029.1,32.5)(1036.8,45.6)(1045.6,64.6)(1051.1,82.1)(1056.7,78.3)(1067.7,79.3)(1078.7,89.1)(1089.8,93.0)(1097.5,95.7)(1103.0,90.8)(1109.6,84.8)(1117.3,81.5)(1126.2,73.9)(1130.6,80.4)(1139.4,90.2)(1148.2,80.4)(1156.0,55.4)(1164.8,43.4)(1172.5,52.1)(1181.3,63.0)(1189.0,49.9)(1194.6,22.7)(1203.4,17.2)(1211.1,35.8)(1218.8,60.8)(1225.5,57.5)(1233.2,49.9)(1240.9,63.0)(1249.7,76.1)(1256.4,87.5)(1263.0,76.6)(1271.8,47.7)(1279.5,28.1)(1286.1,16.2)(1291.7,10.7)(1299.4,17.2)(1304.9,36.8)(1312.6,58.6)(1319.2,54.3)(1327.0,33.6)(1335.8,27.0)(1343.5,16.1)(1351.2,14.0)(1360.1,23.8)(1368.9,22.7)(1376.6,28.1)(1384.3,34.7)(1395.4,52.1)(1406.4,75.0)(1415.2,87.5)(1421.9,83.1)(1430.7,65.2)(1439.5,52.1)(1448.3,48.8)(1457.2,43.4)(1461.6,57.6)(1470.4,77.2)(1478.1,82.1)(1487.0,70.1)(1494.7,30.3)(1503,11.4)(1513,18.5)(1521,29.5)(1528,28.5)(1536,31.5)(1546,33.5)(1556,25.5)(1561,23.5)(1570,35)(1576,58)(1583,73.5)(1591,84.5)(1598,84)(1603,78)(1615,86)(1621,90.5)(1628,82.5)(1633,64)(1640,47.5)(1650,27)(1654,11.5)(1663,17)(1670,26)(1676,58)(1680,80)(1685,63)(1690,46.5)(1695,54)(1700,70.5)(1703,77)(1708,87.3)(1713,93.5)};
\draw[hlgreen, line width=1.6pt] (axis cs:1706,90.8) ellipse [x radius=16.5pt, y radius=11.6pt];
\end{axis}
\draw[sepc, line width=0.6pt] (0,-541.5pt) -- (1291.5pt,-541.5pt);

% ===== volume panel =====
\begin{axis}[panel, at={(0pt,-663pt)}, anchor=south west, height=121.5pt,
  ymin=-1, ymax=80,
  ytick={0,10,20,30,40,50,60,70}, yticklabels={0M,10M,20M,30M,40M,50M,60M,70M},
  xticklabels={Nov,Dec,2017,Feb,Mar,Apr,May,Jun,Jul,Aug,Sep,Oct,Nov,Dec,2018,Feb,Mar,Apr,May,Jun,Jul,Aug,Sep,Oct,Nov,Dec,2019,Feb},
  xticklabel style={anchor=north west, inner sep=0pt, xshift=1pt, yshift=-2pt, font=\tickfont, text=lab}]
\addplot[ybar, bar width=2.7pt, bar shift=0pt, fill=vup, draw=none] table[x=x, y=v] {\up};
\addplot[ybar, bar width=2.7pt, bar shift=0pt, fill=vdn, draw=none] table[x=x, y=v] {\dn};
\draw[hlgreen, line width=1.6pt] (axis cs:1704,4.25) ellipse [x radius=13.5pt, y radius=10.9pt];
\end{axis}
\end{tikzpicture}
\end{document}
